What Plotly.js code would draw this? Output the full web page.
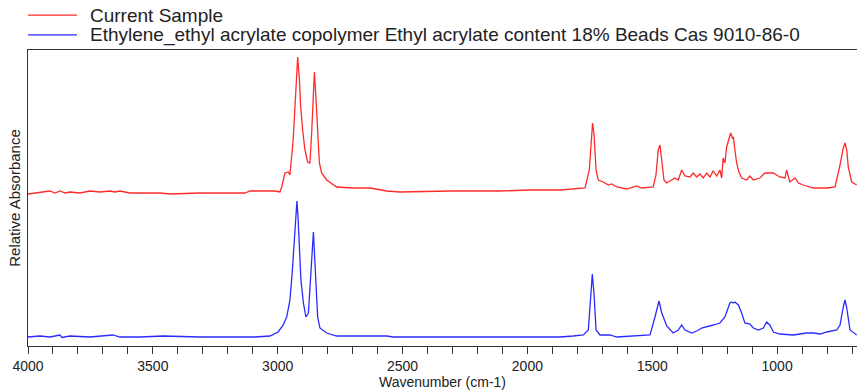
<!DOCTYPE html>
<html>
<head>
<meta charset="utf-8">
<script src="https://cdn.plot.ly/plotly-3.0.1.min.js"></script>
<style>html,body{margin:0;padding:0;background:#fff}#chart{width:857px;height:390px}</style>
</head>
<body>
<div id="chart"></div>
<script>
// Wavenumbers (cm-1) and relative absorbance (arbitrary units, offset traces)
const sampleWn = [4000,3972,3932,3912,3892,3872,3852,3832,3792,3752,3712,3672,3652,3632,3592,3551,3471,3431,3311,3131,3111,3011,2991,2984,2971,2958,2951,2938,2931,2924,2920,2913,2908,2900,2891,2880,2871,2864,2857,2853,2848,2841,2833,2824,2804,2764,2697,2630,2564,2510,2310,2110,1990,1869,1816,1769,1752,1743,1739,1733,1725,1716,1696,1676,1662,1642,1602,1562,1542,1496,1485,1476,1469,1462,1453,1442,1422,1409,1396,1382,1369,1349,1336,1322,1309,1296,1282,1269,1256,1242,1229,1222,1216,1209,1202,1193,1186,1179,1175,1169,1162,1153,1142,1122,1109,1095,1069,1049,1015,989,968,962,949,928,915,895,855,801,768,748,735,728,721,715,701,681];
const sampleAbs = [1.52,1.53,1.54,1.55,1.53,1.55,1.53,1.54,1.53,1.55,1.54,1.55,1.54,1.55,1.53,1.53,1.53,1.52,1.53,1.53,1.55,1.55,1.54,1.59,1.73,1.74,1.71,2.06,2.39,2.76,2.89,2.66,2.39,2.16,1.96,1.84,1.83,2.13,2.56,2.74,2.53,2.13,1.83,1.73,1.66,1.59,1.58,1.58,1.55,1.54,1.55,1.55,1.56,1.56,1.57,1.58,1.76,2.16,2.23,2.11,1.76,1.66,1.64,1.61,1.62,1.59,1.57,1.60,1.58,1.59,1.71,1.96,2.01,1.86,1.66,1.63,1.66,1.68,1.66,1.76,1.70,1.69,1.73,1.69,1.72,1.68,1.73,1.69,1.75,1.70,1.76,1.68,1.88,1.83,1.99,2.06,2.13,2.08,2.09,1.96,1.83,1.74,1.68,1.66,1.70,1.66,1.68,1.73,1.73,1.69,1.68,1.76,1.64,1.68,1.63,1.61,1.58,1.58,1.59,1.81,1.98,2.03,1.96,1.79,1.64,1.61];

const refWn = [4000,3952,3912,3872,3864,3832,3752,3680,3660,3632,3551,3459,3311,3091,3031,2998,2978,2964,2951,2942,2934,2927,2923,2918,2913,2907,2897,2887,2877,2868,2861,2857,2852,2847,2840,2831,2804,2764,2670,2564,2537,2470,2310,2110,1990,1869,1816,1776,1756,1747,1740,1733,1725,1709,1669,1642,1562,1509,1489,1473,1462,1442,1416,1396,1382,1369,1342,1322,1302,1282,1256,1229,1209,1189,1182,1175,1169,1155,1142,1129,1109,1095,1075,1055,1042,1029,1015,989,935,882,855,828,801,761,748,735,728,721,708,681];
const refAbs = [0.09,0.10,0.09,0.11,0.085,0.10,0.09,0.10,0.11,0.09,0.09,0.10,0.09,0.09,0.10,0.14,0.21,0.29,0.46,0.73,1.06,1.36,1.45,1.26,0.96,0.66,0.43,0.29,0.33,0.69,0.99,1.14,0.89,0.56,0.29,0.18,0.13,0.10,0.10,0.10,0.09,0.09,0.085,0.085,0.09,0.09,0.10,0.11,0.16,0.46,0.72,0.51,0.16,0.11,0.11,0.09,0.10,0.11,0.29,0.45,0.33,0.20,0.13,0.16,0.21,0.16,0.13,0.15,0.18,0.19,0.21,0.23,0.29,0.43,0.44,0.43,0.44,0.41,0.33,0.23,0.22,0.18,0.16,0.18,0.24,0.21,0.14,0.12,0.11,0.13,0.13,0.12,0.14,0.16,0.21,0.39,0.46,0.38,0.16,0.11];

const seriesNames = ["Current Sample", "Ethylene_ethyl acrylate copolymer Ethyl acrylate content 18% Beads Cas 9010-86-0"];
const seriesColors = ["#ff2a2a", "#2a2aff"];
const tickValues = [4000,3900,3800,3700,3600,3500,3400,3300,3200,3100,3000,2900,2800,2700,2600,2500,2400,2300,2200,2100,2000,1900,1800,1700,1600,1500,1400,1300,1200,1100,1000,900,800,700];
const tickLabels = tickValues.map(v => v % 500 === 0 ? String(v) : "");

const font = "Liberation Sans, Arial, sans-serif";
const traces = [
  {x: sampleWn, y: sampleAbs, name: seriesNames[0], type: "scatter", mode: "lines",
   line: {color: seriesColors[0], width: 1.3}},
  {x: refWn, y: refAbs, name: seriesNames[1], type: "scatter", mode: "lines",
   line: {color: seriesColors[1], width: 1.3}}
];

const shapes = [], annotations = [];
const legendY = [1.118, 1.051];
for (let i = 0; i < 2; i++) {
  shapes.push({type: "line", xref: "paper", yref: "paper", x0: 0, x1: 0.059, y0: legendY[i], y1: legendY[i],
    line: {color: seriesColors[i], width: 1.3}});
  annotations.push({xref: "paper", yref: "paper", x: 0.0724, y: legendY[i], xanchor: "left", yanchor: "middle",
    text: seriesNames[i], showarrow: false, font: {family: font, size: 19, color: "#222"}});
}

const layout = {
  width: 857, height: 390,
  margin: {l: 28, r: 0, t: 50, b: 44, pad: 0},
  paper_bgcolor: "#fff", plot_bgcolor: "#fff",
  showlegend: false,
  font: {family: font, color: "#222"},
  xaxis: {
    range: [4000, 680], autorange: false,
    tickmode: "array", tickvals: tickValues, ticktext: tickLabels,
    ticks: "outside", ticklen: 7, tickwidth: 1, tickcolor: "#333",
    showline: true, linecolor: "#333", linewidth: 1.3, mirror: true,
    showgrid: false, zeroline: false,
    tickfont: {family: font, size: 14, color: "#222"},
    title: {text: "Wavenumber (cm-1)", font: {family: font, size: 14, color: "#222"}, standoff: 3}
  },
  yaxis: {
    range: [0, 2.96], autorange: false,
    showticklabels: false, ticks: "",
    showline: true, linecolor: "#333", linewidth: 1.3,
    showgrid: false, zeroline: false,
    title: {text: "Relative Absorbance", font: {family: font, size: 15, color: "#222"}, standoff: 2}
  },
  shapes: shapes,
  annotations: annotations
};

Plotly.newPlot("chart", traces, layout, {displayModeBar: false, staticPlot: true});
</script>
</body>
</html>
